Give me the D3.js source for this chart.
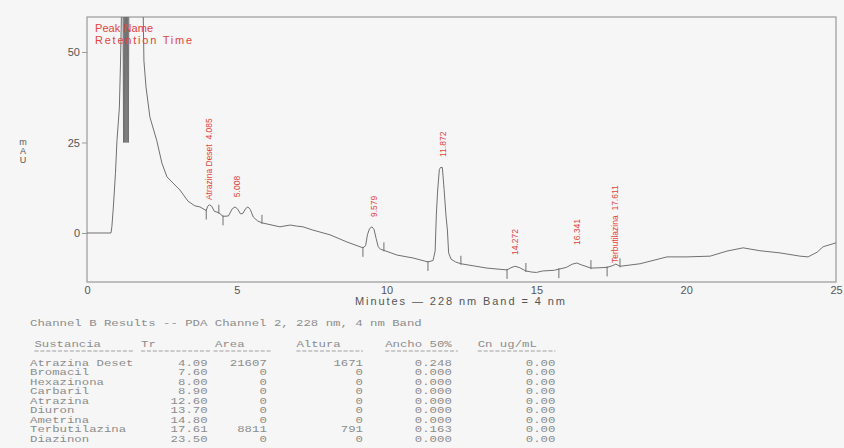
<!DOCTYPE html>
<html>
<head>
<meta charset="utf-8">
<script src="https://cdn.jsdelivr.net/npm/d3@7"></script>
<style>
  body { margin: 0; background: #f6f6f6; }
  svg { display: block; }
</style>
</head>
<body>
<div id="chart"></div>
<script>
// chromatogram trace (minutes, mAU)
var traceTime = [0.00, 0.80, 0.83, 0.88, 0.95, 1.00, 1.08, 1.12, 1.16, 1.20,
  1.22, 1.24, 1.26, 1.28, 1.30, 1.32, 1.34, 1.36, 1.38, 1.40, 1.45, 1.85, 1.90,
  1.97, 2.10, 2.33, 2.50, 2.67, 2.87, 3.10, 3.37, 3.60, 3.77, 3.98, 4.03, 4.09,
  4.16, 4.25, 4.40, 4.54, 4.72, 4.85, 4.94, 5.03, 5.12, 5.20, 5.30, 5.37, 5.45,
  5.55, 5.70, 5.84, 6.44, 6.78, 7.00, 7.21, 7.54, 8.11, 8.68, 9.21, 9.30, 9.36,
  9.43, 9.51, 9.58, 9.65, 9.72, 9.80, 9.91, 10.35, 10.88, 11.38, 11.55, 11.62,
  11.66, 11.70, 11.76, 11.80, 11.86, 11.92, 11.98, 12.03, 12.07, 12.15, 12.30,
  12.48, 13.35, 14.02, 14.15, 14.28, 14.42, 14.65, 14.85, 15.00, 15.20, 15.60,
  15.75, 16.00, 16.20, 16.35, 16.50, 16.82, 17.12, 17.36, 17.55, 17.65, 17.79,
  18.46, 19.36, 20.03, 20.80, 21.36, 21.90, 22.46, 23.13, 23.80, 24.07, 24.37,
  24.57, 24.97, 25.00];
var traceMAU = [0, 0, 1.7, 7.2, 16.5, 25.5, 34.5, 47.5, 65, 70,
  25, 70, 25, 70, 25, 70, 25, 70, 25, 70, 75, 75, 47.5,
  40.3, 32, 25.5, 19.3, 15.5, 13.8, 11.9, 8.8, 7.5, 7.2, 6.2, 7.4, 7.8,
  7.4, 6.0, 5.6, 4.6, 4.7, 6.7, 7.2, 6.6, 5.3, 5.4, 6.8, 7.2, 6.5,
  4.4, 3.3, 2.8, 1.7, 2.2, 1.9, 1.7, 0.8, -0.5, -2.5, -4.1, -3.5, -0.5,
  1.2, 1.7, 1.0, -1.5, -3.8, -4.5, -4.8, -6.1, -6.9, -8.0, -7.6, -5,
  5, 11.3, 17.5, 18.1, 18.1, 12, 5, 0.8, -5.5, -7.2, -8.0,
  -8.5, -9.7, -10.2, -9.6, -9.2, -9.5, -10.5, -10.8, -10.9, -10.5, -10.3,
  -10.0, -9.5, -8.6, -8.3, -8.8, -9.7, -9.6, -9.5, -9.0, -8.6, -9.2,
  -8.5, -6.6, -6.6, -6.4, -5.0, -4.1, -4.9, -5.5, -6.4, -6.6, -5.3,
  -3.8, -2.8, -2.7];

// peak labels and integration limits
var peakLabels = ["Atrazina Deset  4.085", "5.008", "9.579", "11.872", "14.272", "16.341", "Terbutilazina  17.611"];
var peakTimes = [4.085, 5.008, 9.579, 11.872, 14.272, 16.341, 17.611];
var peakLabelMAU = [9.1, 9.9, 4.4, 21.0, -6.1, -3.3, -8.3];
var peakStart = [3.98, 4.54, 9.21, 11.38, 14.02, 15.75, 17.36];
var peakEnd = [4.40, 5.84, 9.91, 12.48, 14.65, 16.82, 17.79];

var xTicks = [0, 5, 10, 15, 20, 25];
var yTicks = [0, 25, 50];

// results table
var tableTitle = "Channel B Results -- PDA Channel 2, 228 nm, 4 nm Band";
var tableHeaders = ["Sustancia", "Tr", "Area", "Altura", "Ancho 50%", "Cn ug/mL"];
var compNames = ["Atrazina Deset", "Bromacil", "Hexazinona", "Carbaril", "Atrazina", "Diuron", "Ametrina", "Terbutilazina", "Diazinon"];
var compTr = ["4.09", "7.60", "8.00", "8.90", "12.60", "13.70", "14.80", "17.61", "23.50"];
var compArea = ["21607", "0", "0", "0", "0", "0", "0", "8811", "0"];
var compAltura = ["1671", "0", "0", "0", "0", "0", "0", "791", "0"];
var compAncho = ["0.248", "0.000", "0.000", "0.000", "0.000", "0.000", "0.000", "0.163", "0.000"];
var compCn = ["0.00", "0.00", "0.00", "0.00", "0.00", "0.00", "0.00", "0.00", "0.00"];

var svgWidth = 844;
var svgHeight = 448;
var margin = { top: 17, right: 8, bottom: 166, left: 87 };
var width = svgWidth - margin.left - margin.right;
var height = svgHeight - margin.top - margin.bottom;

var svg = d3.select("#chart")
  .append("svg")
  .attr("width", svgWidth)
  .attr("height", svgHeight)
  .style("background", "#f6f6f6");

var chartGroup = svg.append("g")
  .attr("transform", "translate(" + margin.left + "," + margin.top + ")");

var xScale = d3.scaleLinear().domain([0, 25]).range([0, width]);
var yScale = d3.scaleLinear().domain([-13.54, 59.67]).range([height, 0]);

var trace = traceTime.map(function(t, i) { return [t, traceMAU[i]]; });

function valueAt(t) {
  var i = d3.bisectLeft(traceTime, t);
  if (i <= 0) return traceMAU[0];
  if (i >= traceTime.length) return traceMAU[traceMAU.length - 1];
  var t0 = traceTime[i - 1], t1 = traceTime[i];
  return traceMAU[i - 1] + (traceMAU[i] - traceMAU[i - 1]) * (t - t0) / (t1 - t0);
}

svg.append("defs").append("clipPath")
  .attr("id", "plotClip")
  .append("rect")
  .attr("width", width)
  .attr("height", height);

// frame
chartGroup.append("rect")
  .attr("width", width)
  .attr("height", height)
  .attr("fill", "none")
  .attr("stroke", "#9a9a9a")
  .attr("stroke-width", 1.2);

// axes
var bottomAxis = d3.axisBottom(xScale).tickValues(xTicks).tickSize(0).tickPadding(4);
var leftAxis = d3.axisLeft(yScale).tickValues(yTicks).tickSize(5).tickPadding(2);

var xAxis = chartGroup.append("g")
  .attr("transform", "translate(0," + height + ")")
  .call(bottomAxis);
var yAxis = chartGroup.append("g").call(leftAxis);

[xAxis, yAxis].forEach(function(ax) {
  ax.select(".domain").remove();
  ax.selectAll("line").attr("stroke", "#9a9a9a");
  ax.selectAll("text")
    .attr("fill", "#555")
    .style("font", "11px 'Liberation Sans', Arial, sans-serif");
});

// trace
var line = d3.line()
  .x(function(d) { return xScale(d[0]); })
  .y(function(d) { return yScale(d[1]); });

chartGroup.append("g")
  .attr("clip-path", "url(#plotClip)")
  .append("path")
  .datum(trace)
  .attr("d", line)
  .attr("fill", "none")
  .attr("stroke", "#707070")
  .attr("stroke-width", 1);

// peak start / end markers
peakStart.forEach(function(t) {
  var y = yScale(valueAt(t));
  chartGroup.append("line")
    .attr("x1", xScale(t)).attr("x2", xScale(t))
    .attr("y1", y - 1).attr("y2", y + 9)
    .attr("stroke", "#707070");
});
peakEnd.forEach(function(t) {
  var y = yScale(valueAt(t));
  chartGroup.append("line")
    .attr("x1", xScale(t)).attr("x2", xScale(t))
    .attr("y1", y - 8).attr("y2", y + 1)
    .attr("stroke", "#707070");
});

// peak labels
chartGroup.selectAll(".peakLabel")
  .data(peakLabels)
  .enter()
  .append("text")
  .attr("class", "peakLabel")
  .attr("transform", function(d, i) {
    return "translate(" + xScale(peakTimes[i]) + "," + yScale(peakLabelMAU[i]) + ") rotate(-90)";
  })
  .attr("dy", "0.35em")
  .attr("fill", "#e3443c")
  .style("font", "8.5px 'Liberation Sans', Arial, sans-serif")
  .style("white-space", "pre")
  .text(function(d) { return d; });

// legend
chartGroup.append("text")
  .attr("x", 8).attr("y", 15)
  .attr("fill", "#e3443c")
  .attr("textLength", 58)
  .style("font", "11px 'Liberation Sans', Arial, sans-serif")
  .text("Peak Name");
chartGroup.append("text")
  .attr("x", 8).attr("y", 27)
  .attr("fill", "#e3443c")
  .attr("textLength", 97)
  .style("font", "11px 'Liberation Sans', Arial, sans-serif")
  .text("Retention Time");

// axis titles
["m", "A", "U"].forEach(function(c, i) {
  svg.append("text")
    .attr("x", 23).attr("y", 145 + i * 9)
    .attr("text-anchor", "middle")
    .attr("fill", "#555")
    .style("font", "9px 'Liberation Sans', Arial, sans-serif")
    .text(c);
});
svg.append("text")
  .attr("x", 355).attr("y", 305)
  .attr("textLength", 210)
  .attr("fill", "#555")
  .style("font", "11px 'Liberation Sans', Arial, sans-serif")
  .text("Minutes \u2014 228 nm Band = 4 nm");

// results table: small mono text stretched sideways, laid out on a char grid
var cw = 5.4;           // char width of 9px mono
var stretch = 7.4 / cw; // the printout's chars are wider than tall
var table = svg.append("g")
  .attr("transform", "translate(30,0) scale(" + stretch + ",1)")
  .attr("fill", "#8c8c8c")
  .style("font", "9px 'Liberation Mono', 'Courier New', monospace")
  .style("white-space", "pre");

table.append("text").attr("x", 0).attr("y", 326).text(tableTitle);

var headerCols = [0.6, 15, 25, 36, 48, 60.5];
tableHeaders.forEach(function(h, i) {
  table.append("text").attr("x", headerCols[i] * cw).attr("y", 347).text(h);
});
var dashCols = [[0.6, 14], [15, 24.5], [24.8, 32.5], [36, 45], [48, 57.8], [60.5, 71]];
dashCols.forEach(function(c) {
  table.append("line")
    .attr("x1", c[0] * cw).attr("x2", c[1] * cw)
    .attr("y1", 351).attr("y2", 351)
    .attr("stroke", "#a0a0a0")
    .attr("stroke-width", 0.8)
    .attr("stroke-dasharray", "3,1.3");
});

var rightCols = [24, 32, 45, 57, 71];
var cols = [compTr, compArea, compAltura, compAncho, compCn];
compNames.forEach(function(name, r) {
  var y = 366 + r * 9.5;
  table.append("text").attr("x", 0).attr("y", y).text(name);
  cols.forEach(function(col, c) {
    table.append("text")
      .attr("x", rightCols[c] * cw)
      .attr("y", y)
      .attr("text-anchor", "end")
      .text(col[r]);
  });
});
</script>
</body>
</html>
